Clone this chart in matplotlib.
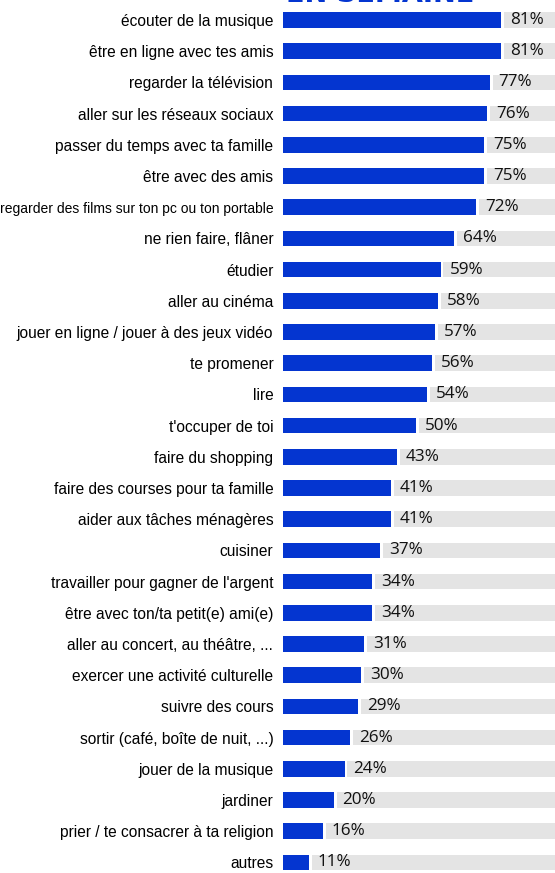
import matplotlib.pyplot as plt

# --- data ---
activities = [
    "écouter de la musique",
    "être en ligne avec tes amis",
    "regarder la télévision",
    "aller sur les réseaux sociaux",
    "passer du temps avec ta famille",
    "être avec des amis",
    "regarder des films sur ton pc ou ton portable",
    "ne rien faire, flâner",
    "étudier",
    "aller au cinéma",
    "jouer en ligne / jouer à des jeux vidéo",
    "te promener",
    "lire",
    "t'occuper de toi",
    "faire du shopping",
    "faire des courses pour ta famille",
    "aider aux tâches ménagères",
    "cuisiner",
    "travailler pour gagner de l'argent",
    "être avec ton/ta petit(e) ami(e)",
    "aller au concert, au théâtre, ...",
    "exercer une activité culturelle",
    "suivre des cours",
    "sortir (café, boîte de nuit, ...)",
    "jouer de la musique",
    "jardiner",
    "prier / te consacrer à ta religion",
    "autres",
]
percent = [81, 81, 77, 76, 75, 75, 72, 64, 59, 58, 57, 56, 54, 50,
           43, 41, 41, 37, 34, 34, 31, 30, 29, 26, 24, 20, 16, 11]
title = "EN SEMAINE"

BLUE = "#0435d0"
GREY = "#e4e4e4"

W, H = 555, 873
fig = plt.figure(figsize=(W / 100, H / 100), dpi=100)
ax = fig.add_axes([283 / W, 0, 1 - 283 / W, 1])

rows = list(range(len(activities)))
step = 31.2
x0 = 1.46
xmax = x0 + 272 / 2.74

# grey track to the right of each bar, then the blue bar
gap = 1.0
ax.barh(rows, [xmax - p - gap for p in percent], left=[p + gap for p in percent],
        height=0.5, color=GREY, linewidth=0)
ax.barh(rows, percent, height=0.5, color=BLUE, linewidth=0)

for r, p in zip(rows, percent):
    ax.text(p + 3.2, r, f"{p}%", va="center", ha="left",
            fontsize=12.3, family="Open Sans", color="#111111")

ax.set_xlim(x0, xmax)
ax.set_ylim(27 + (H - 862.4) / step, -20 / step)

ax.set_yticks(rows)
ax.set_yticklabels(activities, family="Liberation Sans", fontsize=11.2)
for lbl, text in zip(ax.get_yticklabels(), activities):
    if len(text) > 40:
        lbl.set_fontsize(10)
ax.tick_params(axis="y", length=0, pad=7)
ax.set_xticks([])
for s in ax.spines.values():
    s.set_visible(False)

# title is cut off by the top edge in the reference: only its foot shows
fig.text(380 / W, 1 - 1.5 / H, title, ha="center", va="baseline",
         fontsize=19.5, fontweight="bold", color=BLUE)

fig.savefig("out.png", dpi=100)
